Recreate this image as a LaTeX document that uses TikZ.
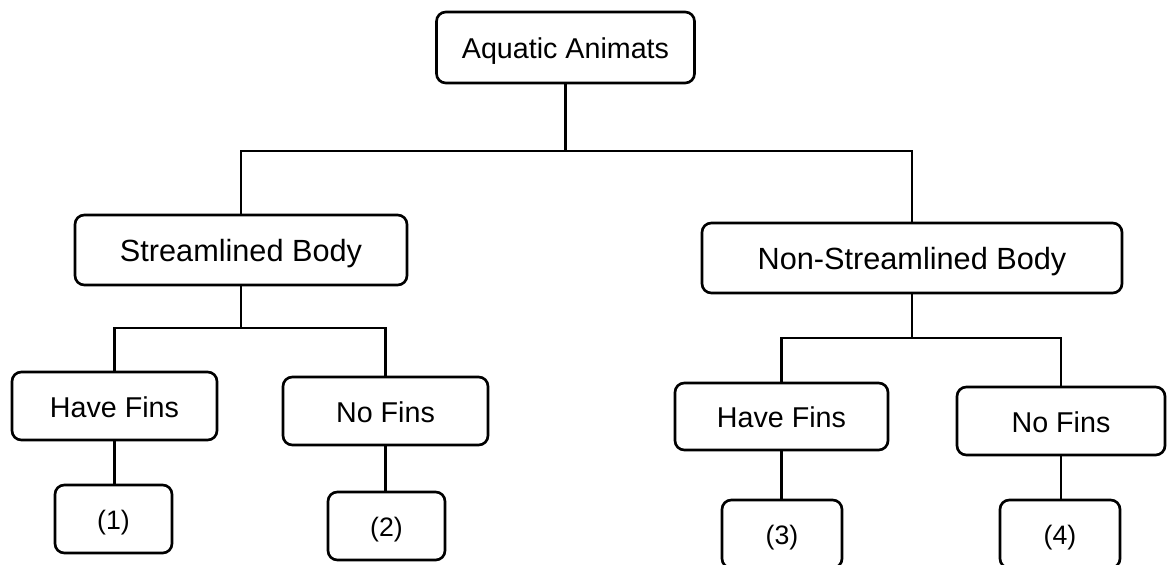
\documentclass[tikz,border=0pt]{standalone}
\usepackage{fontspec}
\setmainfont{Liberation Sans}
\begin{document}
\begin{tikzpicture}[x=0.75pt,y=-0.75pt,
  box/.style={draw, rounded corners=7pt, line width=2pt, inner sep=0pt, text depth=0pt},
  conn/.style={line width=2pt},
  fA/.style={font=\fontsize{21.5}{24}\selectfont, text height=16pt},
  fB/.style={font=\fontsize{23}{26}\selectfont, text height=17.5pt},
  fC/.style={font=\fontsize{21.5}{24}\selectfont, text height=16.5pt},
  fD/.style={font=\fontsize{20}{23}\selectfont, text height=15pt}]
\useasboundingbox (0,0) rectangle (1167,564);
\clip (0,0) rectangle (1167,564);
% nodes
\node[box, fA, minimum width=193.5pt, minimum height=53.25pt] (root) at (565.5,47.5) {Aquatic Animats};
\node[box, fB, minimum width=249pt, minimum height=52.5pt] (sb) at (241,250) {Streamlined Body};
\node[box, fB, minimum width=315pt, minimum height=52.5pt] (nsb) at (912,258) {Non-Streamlined Body};
\node[box, fC, minimum width=153.75pt, minimum height=51pt] (hf1) at (114.5,406) {Have Fins};
\node[box, fC, minimum width=153.75pt, minimum height=51pt] (nf1) at (385.5,411) {No Fins};
\node[box, fC, minimum width=159.75pt, minimum height=50.25pt] (hf2) at (781.5,416.5) {Have Fins};
\node[box, fC, minimum width=156pt, minimum height=51pt] (nf2) at (1061,421) {No Fins};
\node[box, fD, minimum width=87.75pt, minimum height=51pt] (o1) at (113.5,519) {(1)};
\node[box, fD, minimum width=87.75pt, minimum height=51pt] (o2) at (386.5,526) {(2)};
\node[box, fD, minimum width=90pt, minimum height=51pt] (o3) at (782,534) {(3)};
\node[box, fD, minimum width=90pt, minimum height=51pt] (o4) at (1060,534) {(4)};
% junctions
\coordinate (j0) at (565.5,151);
\coordinate (j1) at (241,328);
\coordinate (j2) at (912,338);
% connectors
\draw[conn] (root.south) -- (j0);
\draw[conn] (sb.north) |- (j0) -| (nsb.north);
\draw[conn] (sb.south) -- (j1);
\draw[conn] (hf1.north) |- (j1) -| (nf1.north);
\draw[conn] (nsb.south) -- (j2);
\draw[conn] (hf2.north) |- (j2) -| (nf2.north);
\draw[conn] (hf1.south) -- (o1.north -| hf1.south);
\draw[conn] (nf1.south) -- (o2.north -| nf1.south);
\draw[conn] (hf2.south) -- (o3.north -| hf2.south);
\draw[conn] (nf2.south) -- (o4.north -| nf2.south);
\end{tikzpicture}
\end{document}
